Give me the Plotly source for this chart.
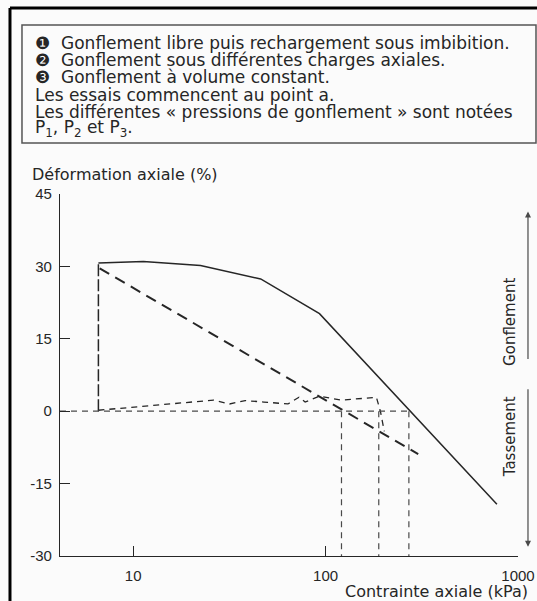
import plotly.graph_objects as go

# ---- data ----
point_a = (6.6, 0.0)
swell_top = 30.7

curve1_x = [6.6, 11.3, 22.4, 46, 93, 777]
curve1_y = [30.7, 31.0, 30.2, 27.4, 20.2, -19.3]

curve2_x = [6.7, 303]
curve2_y = [29.6, -8.9]

curve3_x = [6.6, 10.3, 16.6, 26.2, 31.7, 38.2, 47.8, 63.8, 72.8, 78.3, 92.6, 120.6, 162.9, 183.7, 192.7, 202]
curve3_y = [0.2, 0.9, 1.7, 2.3, 1.5, 2.2, 1.9, 1.5, 2.9, 1.9, 3.1, 2.3, 2.7, 2.9, 0.0, -4.2]

pressure_names = ["P<sub>1</sub>", "P<sub>2</sub>", "P<sub>3</sub>"]
pressure_vals = [271, 121, 189]
pressure_label_x = [335, 94, 150]

y_ticks = [-30, -15, 0, 15, 30, 45]
y_ticktext = ["-30", "-15", "0", "15", "30", "45"]
x_ticks = [10, 100, 1000]
x_ticktext = ["10", "100", "1000"]

notes = [
    "\u2776\u00a0\u00a0Gonflement libre puis rechargement sous imbibition.",
    "\u2777\u00a0\u00a0Gonflement sous différentes charges axiales.",
    "\u2778\u00a0\u00a0Gonflement à volume constant.",
    "Les essais commencent au point a.",
    "Les différentes « pressions de gonflement » sont notées",
    "P<sub>1</sub>, P<sub>2</sub> et P<sub>3</sub>.",
]

x_log_range = [0.62, 3.0]
y_range = [-30, 45]

# ---- figure ----
INK = "#262626"
GREY = "#4a4a4a"
TXT = "DejaVu Sans"
fig = go.Figure()

fig.add_trace(go.Scatter(x=[point_a[0], point_a[0]], y=[point_a[1], swell_top], mode="lines",
                         line=dict(color=INK, width=1.5, dash="12px,3px"), hoverinfo="skip"))
fig.add_trace(go.Scatter(x=curve1_x, y=curve1_y, mode="lines",
                         line=dict(color=INK, width=1.5), hoverinfo="skip"))
fig.add_trace(go.Scatter(x=curve2_x, y=curve2_y, mode="lines",
                         line=dict(color=INK, width=2, dash="11px,7px"), hoverinfo="skip"))
fig.add_trace(go.Scatter(x=curve3_x, y=curve3_y, mode="lines",
                         line=dict(color=INK, width=1.3, dash="6px,5px"), hoverinfo="skip"))
fig.add_trace(go.Scatter(x=[10 ** x_log_range[0], max(pressure_vals)], y=[0, 0], mode="lines",
                         line=dict(color=GREY, width=1.2, dash="6px,5px"), hoverinfo="skip"))
for p in pressure_vals:
    fig.add_trace(go.Scatter(x=[p, p], y=[0, y_range[0]], mode="lines",
                             line=dict(color=GREY, width=1.2, dash="6px,5px"), hoverinfo="skip"))

ann = []
for name, lx in zip(pressure_names, pressure_label_x):
    ann.append(dict(x=lx, y=-23.5, xref="x", yref="y", text=name, showarrow=False,
                    font=dict(family=TXT, size=16, color=INK)))
ann += [
    dict(x=92.6, y=22.9, ax=-46, ay=-26, xref="x", yref="y", text="", showarrow=True,
         arrowhead=2, arrowsize=1, arrowwidth=1.2, arrowcolor=INK),
    dict(x=33.3, y=16.0, ax=-48, ay=-25, xref="x", yref="y", text="", showarrow=True,
         arrowhead=2, arrowsize=1, arrowwidth=1.2, arrowcolor=INK),
    dict(x=22.9, y=3.95, ax=-59, ay=0, xref="x", yref="y", text="", showarrow=True,
         arrowhead=2, arrowsize=1, arrowwidth=1.2, arrowcolor=INK),
    dict(x=75.5, y=28.3, xref="x", yref="y", text="1", showarrow=False,
         font=dict(family=TXT, size=15, color=INK)),
    dict(x=26.2, y=20.8, xref="x", yref="y", text="2", showarrow=False,
         font=dict(family=TXT, size=15, color=INK)),
    dict(x=15.3, y=6.65, xref="x", yref="y", text="3", showarrow=False,
         font=dict(family=TXT, size=15, color=INK)),
    dict(x=6.5, y=-2.2, xref="x", yref="y", text="a", showarrow=False,
         font=dict(family=TXT, size=15, color=INK)),
]
ann += [
    dict(x=1.0218, y=41.4, ax=0, ay=149, xref="paper", yref="y", xanchor="center", text="",
         showarrow=True, arrowhead=2, arrowsize=1, arrowwidth=1.2, arrowcolor=GREY),
    dict(x=1.0218, y=-28.1, ax=0, ay=-159, xref="paper", yref="y", xanchor="center", text="",
         showarrow=True, arrowhead=2, arrowsize=1, arrowwidth=1.2, arrowcolor=GREY),
    dict(x=0.9825, y=18.5, xref="paper", yref="y", xanchor="center", yanchor="middle",
         text="Gonflement", textangle=-90, showarrow=False,
         font=dict(family=TXT, size=15, color=INK)),
    dict(x=0.9825, y=-5.2, xref="paper", yref="y", xanchor="center", yanchor="middle",
         text="Tassement", textangle=-90, showarrow=False,
         font=dict(family=TXT, size=15, color=INK)),
]
ann += [
    dict(x=-0.0655, y=1.0525, xref="paper", yref="paper", xanchor="left", yanchor="middle",
         text="Déformation axiale (%)", showarrow=False, font=dict(family=TXT, size=16, color=INK)),
    dict(x=1.0262, y=-0.0967, xref="paper", yref="paper", xanchor="right", yanchor="middle",
         text="Contrainte axiale (kPa)", showarrow=False, font=dict(family=TXT, size=16, color=INK)),
]
note_y = [1.4171, 1.3702, 1.3232, 1.2735, 1.2265, 1.1796]
for txt, yy in zip(notes, note_y):
    ann.append(dict(x=-0.059, y=yy, xref="paper", yref="paper", xanchor="left", yanchor="middle",
                    text=txt, showarrow=False, font=dict(family=TXT, size=17, color=INK)))

shapes = [
    dict(type="rect", xref="paper", yref="paper", x0=-0.083, x1=1.0393, y0=1.1409, y1=1.4669,
         line=dict(color="#555555", width=1.5)),
    dict(type="line", xref="paper", yref="paper", x0=-0.1092, x1=-0.1092, y0=1.5138, y1=-0.13,
         line=dict(color="#000000", width=3)),
    dict(type="line", xref="paper", yref="paper", x0=-0.1092, x1=1.05, y0=1.5138, y1=1.5138,
         line=dict(color="#000000", width=3)),
]

fig.update_layout(
    width=537, height=601,
    margin=dict(l=60, r=19, t=194, b=45, autoexpand=False),
    paper_bgcolor="#fbfbfb", plot_bgcolor="#fbfbfb",
    showlegend=False,
    annotations=ann, shapes=shapes,
    font=dict(family="Liberation Sans, Arial", size=15, color=INK),
    xaxis=dict(type="log", range=x_log_range, tickvals=x_ticks, ticktext=x_ticktext,
               ticks="inside", ticklen=10, tickwidth=1.2, tickcolor=INK, automargin=False,
               showline=True, linecolor=INK, linewidth=1.2, showgrid=False, zeroline=False,
               ticklabelstandoff=6, tickfont=dict(family="Liberation Sans, Arial", size=15)),
    yaxis=dict(range=y_range, tickvals=y_ticks, ticktext=y_ticktext,
               ticks="inside", ticklen=10, tickwidth=1.2, tickcolor=INK, automargin=False,
               showline=True, linecolor=INK, linewidth=1.2, showgrid=False, zeroline=False,
               ticklabelstandoff=4, tickfont=dict(family="Liberation Sans, Arial", size=15)),
)

fig.write_html(
    "out.html",
    config={"displayModeBar": False},
    post_script="document.body.style.margin='0';document.body.style.overflow='hidden';",
)
